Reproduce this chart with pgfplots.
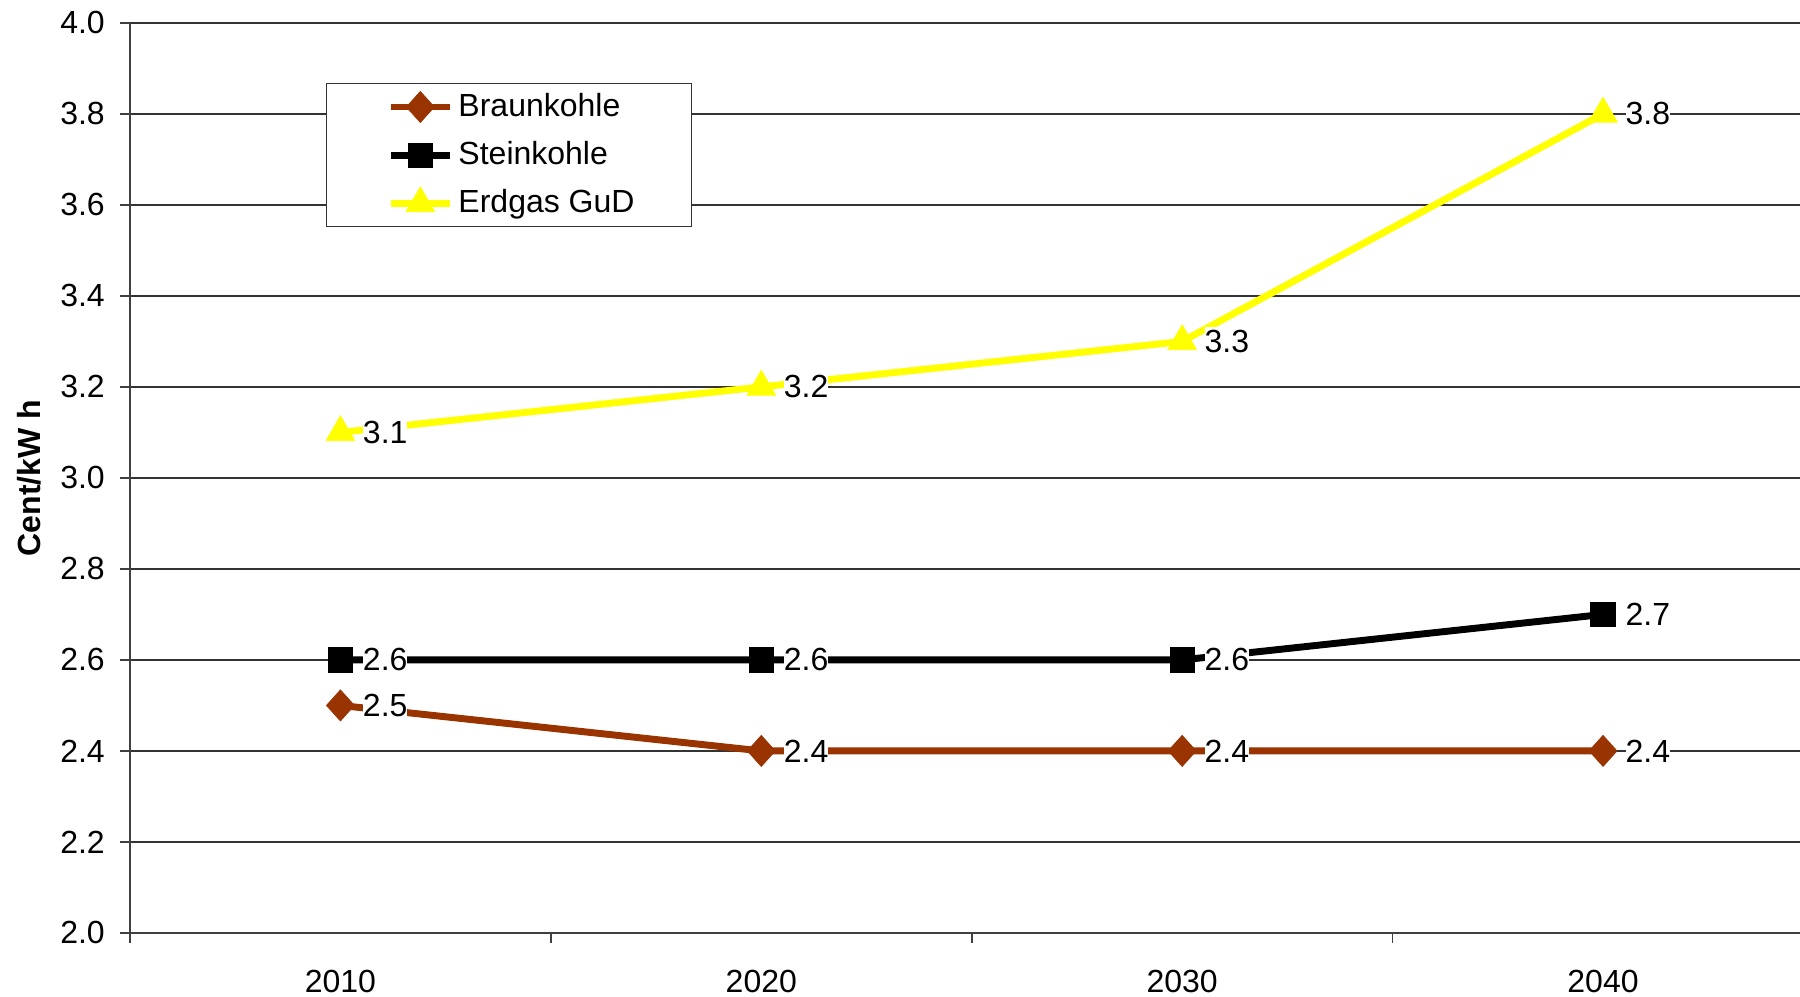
\documentclass[border=0pt]{standalone}
\usepackage{fontspec}
\setmainfont{Liberation Sans}
\usepackage{pgfplots}
\pgfplotsset{compat=1.18}
\definecolor{braun}{HTML}{993300}
\definecolor{gelb}{HTML}{FFFF00}
\begin{document}
\fontsize{12pt}{14pt}\selectfont
\begin{tikzpicture}
\begin{axis}[
  scale only axis, width=626.25pt, height=341.25pt,
  xmin=-0.5, xmax=3.468, ymin=2, ymax=4,
  axis x line=bottom, axis y line=left,
  axis line style={-, black!75, line width=0.6pt},
  /pgf/number format/assume math mode=true,
  tick label style={font=\fontsize{12pt}{14pt}\selectfont},
  xtick={0,1,2,3}, xticklabels={2010,2020,2030,2040},
  major x tick style={draw=none},
  minor xtick={-0.5,0.5,1.5,2.5},
  tick align=outside, major tick length=3.75pt, minor tick length=3.75pt,
  tick style={black!75, line width=0.6pt},
  ytick={2.0,2.2,2.4,2.6,2.8,3.0,3.2,3.4,3.6,3.8,4.0},
  yticklabel style={/pgf/number format/fixed, /pgf/number format/precision=1, /pgf/number format/fixed zerofill, xshift=-1.5pt},
  xticklabel style={yshift=-6pt},
  ymajorgrids, grid style={black!80, line width=0.5pt},
  clip=false,
  every axis y label/.style={at={(axis description cs:0,0.5)}, xshift=-37.9pt, rotate=90, anchor=center, font=\fontsize{12pt}{14pt}\selectfont\bfseries},
  ylabel={Cent/kW h},
  legend image code/.code={\path (0pt,0pt); \draw[mark repeat=2,mark phase=2] plot coordinates {(3.46pt,0pt)(14.46pt,0pt)(25.46pt,0pt)};},
  legend style={at={(0.1174,0.934)}, anchor=north west, draw=black!80, line width=0.5pt, fill=white,
    inner xsep=19.35pt, inner ysep=1.5pt, row sep=3.6pt,
    font=\fontsize{12pt}{14pt}\selectfont},
  legend cell align=left,
  nodes near coords={\pgfmathprintnumber[fixed,precision=1,fixed zerofill]{\pgfplotspointmeta}},
  every node near coord/.append style={anchor=west, xshift=8.3pt, fill=white, inner xsep=0pt, inner ysep=1pt, text=black, font=\fontsize{12pt}{14pt}\selectfont},
]
\addplot[color=braun, line width=2.6pt, mark=diamond*, mark size=5.8pt, mark options={solid, line width=0.3pt, xscale=1.2}]
  coordinates {(0,2.5) (1,2.4) (2,2.4) (3,2.4)};
\addlegendentry{Braunkohle}
\addplot[color=black, line width=2.6pt, mark=square*, mark size=4.6pt, mark options={solid, line width=0.3pt}]
  coordinates {(0,2.6) (1,2.6) (2,2.6) (3,2.7)};
\addlegendentry{Steinkohle}
\addplot[color=gelb, line width=2.6pt, mark=triangle*, mark size=6.2pt, mark options={solid, line width=0.3pt}]
  coordinates {(0,3.1) (1,3.2) (2,3.3) (3,3.8)};
\addlegendentry{Erdgas GuD}
\end{axis}
\pgfresetboundingbox
\path ([xshift=-48.75pt,yshift=-24pt]current axis.south west) rectangle ([yshift=8.6pt]current axis.north east);
\end{tikzpicture}
\end{document}
